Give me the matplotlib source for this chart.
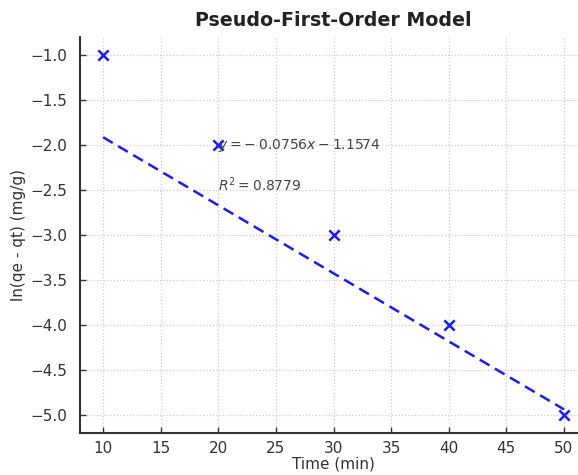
import numpy as np
import matplotlib.pyplot as plt

# data
time_min = [10, 20, 30, 40, 50]
ln_qe_qt = [-1.0, -2.0, -3.0, -4.0, -5.0]
slope = -0.0756
intercept = -1.1574
r_squared = 0.8779

x_ticks = [10, 15, 20, 25, 30, 35, 40, 45, 50]
y_ticks = [-1.0, -1.5, -2.0, -2.5, -3.0, -3.5, -4.0, -4.5, -5.0]

text_color = '#333333'
plt.rcParams['font.family'] = 'DejaVu Sans'
plt.rcParams['text.color'] = text_color
plt.rcParams['axes.labelcolor'] = text_color
plt.rcParams['xtick.color'] = text_color
plt.rcParams['ytick.color'] = text_color

fig = plt.figure(figsize=(5.78, 4.75), dpi=100)
ax = fig.add_axes([0.1384, 0.0884, 0.8772, 0.8336])

x = np.array(time_min)
ax.scatter(time_min, ln_qe_qt, marker='x', color='#1a1aff', s=55, linewidths=1.8, zorder=3)
ax.plot(x, slope * x + intercept, linestyle='--', color='#1a1aff', linewidth=1.8, dashes=(4.5, 2.5))

ax.text(20, -2.0, r'$y = -\:%.4fx - %.4f$' % (abs(slope), abs(intercept)),
        fontsize=10, color='#444444', ha='left', va='center')
ax.text(20, -2.44, r'$R^2 = %.4f$' % r_squared,
        fontsize=10, color='#444444', ha='left', va='center')

ax.set_xlim(8, 52)
ax.set_ylim(-5.2, -0.8)
ax.set_xticks(x_ticks)
ax.set_yticks(y_ticks)
ax.tick_params(direction='in', length=4, width=1, labelsize=11)
ax.tick_params(axis='x', pad=6)
ax.tick_params(axis='y', pad=9)

ax.grid(True, linestyle=':', color='#cccccc', linewidth=0.9)
ax.set_axisbelow(True)
for side in ['top', 'right']:
    ax.spines[side].set_visible(False)
for side in ['left', 'bottom']:
    ax.spines[side].set_color('#333333')
    ax.spines[side].set_linewidth(1.5)

ax.set_title('Pseudo-First-Order Model', fontsize=13.7, fontweight='bold', color='#222222', pad=8)
ax.set_xlabel('Time (min)', fontsize=11, labelpad=0)
ax.set_ylabel('ln(qe - qt) (mg/g)', fontsize=11, labelpad=3)

fig.savefig('out.png', dpi=100)
